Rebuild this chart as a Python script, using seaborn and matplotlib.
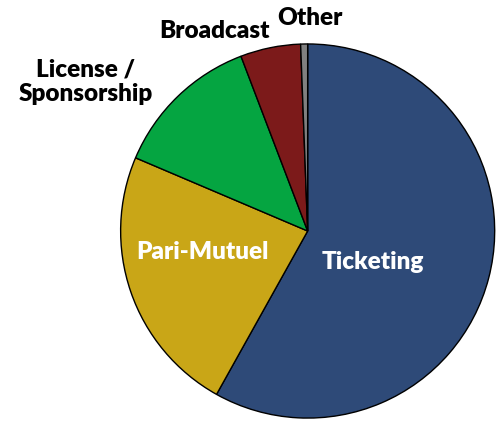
import matplotlib
matplotlib.use("Agg")
import matplotlib.pyplot as plt
import seaborn as sns

categories = ["Ticketing", "Pari-Mutuel", "License /\nSponsorship", "Broadcast", "Other"]
shares = [58.1, 23.3, 12.8, 5.2, 0.6]
colors = ["#2E4A78", "#C9A617", "#05A541", "#7C1A1A", "#808080"]

sns.set_theme(style="white")
plt.rcParams["font.family"] = ["Lato", "DejaVu Sans"]

fig = plt.figure(figsize=(4.96, 4.25), dpi=100)
ax = fig.add_axes([0, 0, 1, 1])

wedges, _ = ax.pie(shares, colors=colors, startangle=90, counterclock=False,
                   radius=1.0, wedgeprops=dict(edgecolor="black", linewidth=1))

ax.set_xlim(-1.645, 1.007)
ax.set_ylim(-1.037, 1.235)
ax.set_aspect("auto")
ax.axis("off")

# label positions
inside = {"Ticketing": (0.348, -0.166), "Pari-Mutuel": (-0.561, -0.112)}
outside = {"License /\nSponsorship": (-1.187, 0.797), "Broadcast": (-0.497, 1.07), "Other": (0.01, 1.14)}
for name in categories:
    if name in inside:
        x, y = inside[name]
        ax.text(x, y, name, color="white", fontsize=17.5, fontweight="heavy", ha="center", va="center")
    else:
        x, y = outside[name]
        ax.text(x, y, name, color="black", fontsize=17.5, fontweight="heavy", ha="center", va="center",
                linespacing=1.15)

fig.savefig("out.png", dpi=100)
